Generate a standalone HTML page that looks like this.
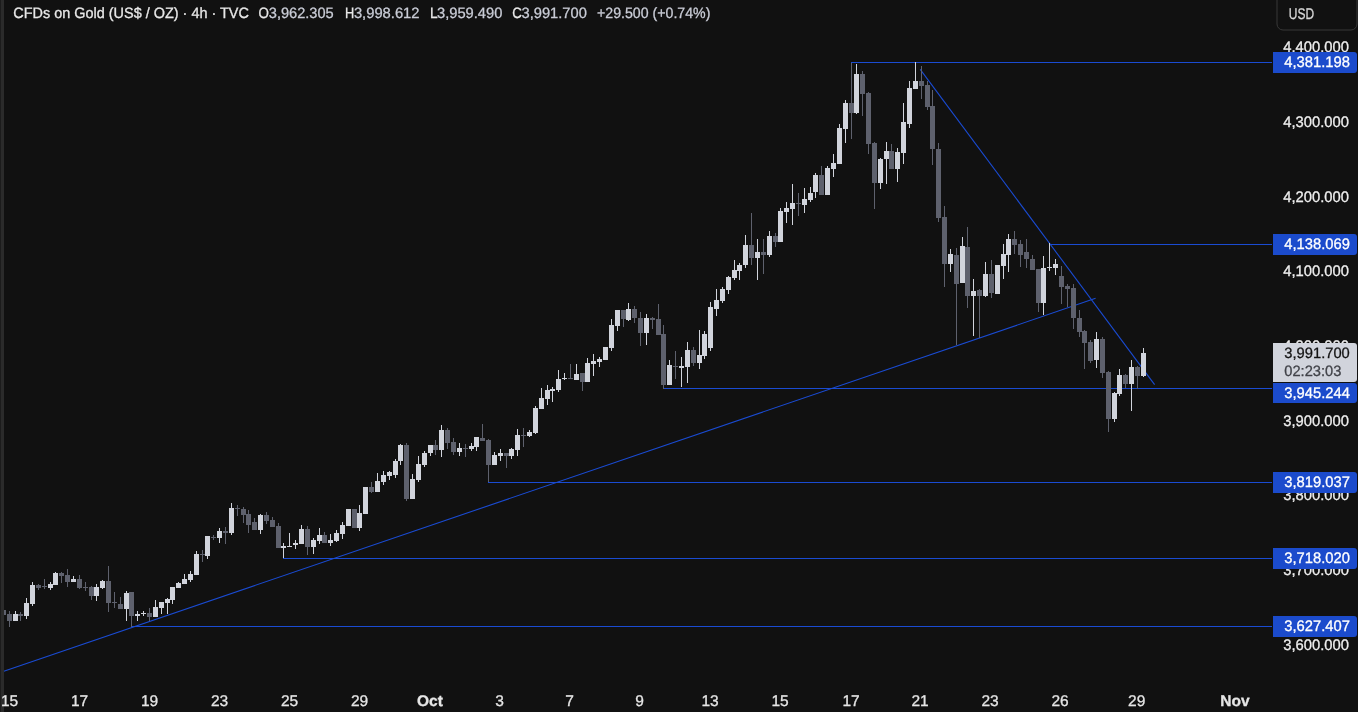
<!DOCTYPE html>
<html><head><meta charset="utf-8"><style>
html,body{margin:0;padding:0;background:#111111;width:1358px;height:712px;overflow:hidden}
</style></head><body>
<svg width="1358" height="712" viewBox="0 0 1358 712" style="display:block;will-change:transform">
<rect x="0" y="0" width="1358" height="712" fill="#111111"/>
<g stroke="#1a4bd2" stroke-width="1" fill="none">
<line x1="3.1" y1="671.5" x2="1095.6" y2="298.3" stroke-width="1.1"/>
<line x1="920.2" y1="69.3" x2="1154.6" y2="384.7" stroke-width="1.1"/>
<line x1="851" y1="62.5" x2="1272" y2="62.5"/>
<line x1="1049" y1="244.5" x2="1272" y2="244.5"/>
<line x1="663" y1="388.5" x2="1272" y2="388.5"/>
<line x1="488" y1="482.5" x2="1272" y2="482.5"/>
<line x1="283" y1="558.5" x2="1272" y2="558.5"/>
<line x1="131" y1="626.5" x2="1272" y2="626.5"/>
</g>
<g shape-rendering="crispEdges">
<rect x="3" y="608" width="1" height="8" fill="#5e616d"/>
<rect x="1" y="610" width="5" height="5" fill="#5e616d"/>
<rect x="9" y="611" width="1" height="16" fill="#5e616d"/>
<rect x="7" y="614" width="5" height="7" fill="#5e616d"/>
<rect x="15" y="611" width="1" height="10" fill="#d1d4dc"/>
<rect x="13" y="614" width="5" height="7" fill="#d1d4dc"/>
<rect x="20" y="612" width="1" height="9" fill="#5e616d"/>
<rect x="18" y="614" width="5" height="2" fill="#5e616d"/>
<rect x="26" y="598" width="1" height="21" fill="#d1d4dc"/>
<rect x="24" y="603" width="5" height="13" fill="#d1d4dc"/>
<rect x="32" y="582" width="1" height="24" fill="#d1d4dc"/>
<rect x="30" y="585" width="5" height="19" fill="#d1d4dc"/>
<rect x="38" y="584" width="1" height="6" fill="#5e616d"/>
<rect x="36" y="585" width="5" height="3" fill="#5e616d"/>
<rect x="44" y="579" width="1" height="10" fill="#5e616d"/>
<rect x="42" y="586" width="5" height="1" fill="#5e616d"/>
<rect x="50" y="582" width="1" height="8" fill="#d1d4dc"/>
<rect x="48" y="584" width="5" height="4" fill="#d1d4dc"/>
<rect x="55" y="572" width="1" height="13" fill="#d1d4dc"/>
<rect x="53" y="573" width="5" height="12" fill="#d1d4dc"/>
<rect x="61" y="572" width="1" height="11" fill="#5e616d"/>
<rect x="59" y="573" width="5" height="3" fill="#5e616d"/>
<rect x="67" y="569" width="1" height="18" fill="#5e616d"/>
<rect x="65" y="575" width="5" height="7" fill="#5e616d"/>
<rect x="73" y="576" width="1" height="6" fill="#d1d4dc"/>
<rect x="71" y="579" width="5" height="3" fill="#d1d4dc"/>
<rect x="79" y="575" width="1" height="14" fill="#5e616d"/>
<rect x="77" y="579" width="5" height="9" fill="#5e616d"/>
<rect x="85" y="582" width="1" height="9" fill="#5e616d"/>
<rect x="83" y="587" width="5" height="1" fill="#5e616d"/>
<rect x="91" y="586" width="1" height="14" fill="#5e616d"/>
<rect x="89" y="587" width="5" height="9" fill="#5e616d"/>
<rect x="96" y="584" width="1" height="17" fill="#d1d4dc"/>
<rect x="94" y="587" width="5" height="9" fill="#d1d4dc"/>
<rect x="102" y="580" width="1" height="9" fill="#d1d4dc"/>
<rect x="100" y="581" width="5" height="7" fill="#d1d4dc"/>
<rect x="108" y="566" width="1" height="46" fill="#5e616d"/>
<rect x="106" y="581" width="5" height="22" fill="#5e616d"/>
<rect x="114" y="592" width="1" height="16" fill="#5e616d"/>
<rect x="112" y="602" width="5" height="1" fill="#5e616d"/>
<rect x="120" y="597" width="1" height="12" fill="#5e616d"/>
<rect x="118" y="604" width="5" height="5" fill="#5e616d"/>
<rect x="126" y="591" width="1" height="30" fill="#d1d4dc"/>
<rect x="124" y="593" width="5" height="16" fill="#d1d4dc"/>
<rect x="131" y="592" width="1" height="35" fill="#5e616d"/>
<rect x="129" y="592" width="5" height="24" fill="#5e616d"/>
<rect x="137" y="611" width="1" height="10" fill="#d1d4dc"/>
<rect x="135" y="614" width="5" height="2" fill="#d1d4dc"/>
<rect x="143" y="611" width="1" height="5" fill="#d1d4dc"/>
<rect x="141" y="613" width="5" height="1" fill="#d1d4dc"/>
<rect x="149" y="608" width="1" height="13" fill="#5e616d"/>
<rect x="147" y="613" width="5" height="4" fill="#5e616d"/>
<rect x="155" y="600" width="1" height="17" fill="#d1d4dc"/>
<rect x="153" y="607" width="5" height="10" fill="#d1d4dc"/>
<rect x="161" y="602" width="1" height="12" fill="#d1d4dc"/>
<rect x="159" y="602" width="5" height="6" fill="#d1d4dc"/>
<rect x="167" y="598" width="1" height="16" fill="#d1d4dc"/>
<rect x="165" y="599" width="5" height="4" fill="#d1d4dc"/>
<rect x="172" y="587" width="1" height="17" fill="#d1d4dc"/>
<rect x="170" y="587" width="5" height="13" fill="#d1d4dc"/>
<rect x="178" y="582" width="1" height="6" fill="#d1d4dc"/>
<rect x="176" y="583" width="5" height="5" fill="#d1d4dc"/>
<rect x="184" y="574" width="1" height="10" fill="#d1d4dc"/>
<rect x="182" y="579" width="5" height="5" fill="#d1d4dc"/>
<rect x="190" y="571" width="1" height="11" fill="#d1d4dc"/>
<rect x="188" y="574" width="5" height="6" fill="#d1d4dc"/>
<rect x="196" y="551" width="1" height="24" fill="#d1d4dc"/>
<rect x="194" y="554" width="5" height="21" fill="#d1d4dc"/>
<rect x="202" y="550" width="1" height="12" fill="#5e616d"/>
<rect x="200" y="554" width="5" height="1" fill="#5e616d"/>
<rect x="207" y="536" width="1" height="23" fill="#d1d4dc"/>
<rect x="205" y="536" width="5" height="20" fill="#d1d4dc"/>
<rect x="213" y="535" width="1" height="5" fill="#5e616d"/>
<rect x="211" y="537" width="5" height="1" fill="#5e616d"/>
<rect x="219" y="528" width="1" height="15" fill="#d1d4dc"/>
<rect x="217" y="531" width="5" height="7" fill="#d1d4dc"/>
<rect x="225" y="527" width="1" height="17" fill="#5e616d"/>
<rect x="223" y="531" width="5" height="2" fill="#5e616d"/>
<rect x="231" y="503" width="1" height="32" fill="#d1d4dc"/>
<rect x="229" y="508" width="5" height="25" fill="#d1d4dc"/>
<rect x="237" y="505" width="1" height="11" fill="#5e616d"/>
<rect x="235" y="508" width="5" height="1" fill="#5e616d"/>
<rect x="243" y="507" width="1" height="16" fill="#5e616d"/>
<rect x="241" y="509" width="5" height="6" fill="#5e616d"/>
<rect x="248" y="510" width="1" height="23" fill="#5e616d"/>
<rect x="246" y="514" width="5" height="11" fill="#5e616d"/>
<rect x="254" y="518" width="1" height="12" fill="#5e616d"/>
<rect x="252" y="522" width="5" height="8" fill="#5e616d"/>
<rect x="260" y="514" width="1" height="20" fill="#d1d4dc"/>
<rect x="258" y="515" width="5" height="15" fill="#d1d4dc"/>
<rect x="266" y="512" width="1" height="12" fill="#5e616d"/>
<rect x="264" y="515" width="5" height="6" fill="#5e616d"/>
<rect x="272" y="517" width="1" height="10" fill="#5e616d"/>
<rect x="270" y="520" width="5" height="7" fill="#5e616d"/>
<rect x="278" y="523" width="1" height="25" fill="#5e616d"/>
<rect x="276" y="526" width="5" height="22" fill="#5e616d"/>
<rect x="283" y="543" width="1" height="15" fill="#d1d4dc"/>
<rect x="281" y="546" width="5" height="2" fill="#d1d4dc"/>
<rect x="289" y="533" width="1" height="14" fill="#d1d4dc"/>
<rect x="287" y="546" width="5" height="1" fill="#d1d4dc"/>
<rect x="295" y="540" width="1" height="9" fill="#d1d4dc"/>
<rect x="293" y="543" width="5" height="2" fill="#d1d4dc"/>
<rect x="301" y="525" width="1" height="19" fill="#d1d4dc"/>
<rect x="299" y="529" width="5" height="15" fill="#d1d4dc"/>
<rect x="307" y="526" width="1" height="29" fill="#5e616d"/>
<rect x="305" y="529" width="5" height="18" fill="#5e616d"/>
<rect x="313" y="538" width="1" height="16" fill="#d1d4dc"/>
<rect x="311" y="540" width="5" height="7" fill="#d1d4dc"/>
<rect x="319" y="528" width="1" height="16" fill="#d1d4dc"/>
<rect x="317" y="535" width="5" height="6" fill="#d1d4dc"/>
<rect x="324" y="532" width="1" height="11" fill="#5e616d"/>
<rect x="322" y="535" width="5" height="8" fill="#5e616d"/>
<rect x="330" y="534" width="1" height="12" fill="#d1d4dc"/>
<rect x="328" y="540" width="5" height="3" fill="#d1d4dc"/>
<rect x="336" y="530" width="1" height="12" fill="#d1d4dc"/>
<rect x="334" y="533" width="5" height="8" fill="#d1d4dc"/>
<rect x="342" y="522" width="1" height="17" fill="#d1d4dc"/>
<rect x="340" y="525" width="5" height="9" fill="#d1d4dc"/>
<rect x="348" y="509" width="1" height="17" fill="#d1d4dc"/>
<rect x="346" y="509" width="5" height="17" fill="#d1d4dc"/>
<rect x="354" y="509" width="1" height="19" fill="#5e616d"/>
<rect x="352" y="509" width="5" height="19" fill="#5e616d"/>
<rect x="359" y="505" width="1" height="26" fill="#d1d4dc"/>
<rect x="357" y="513" width="5" height="15" fill="#d1d4dc"/>
<rect x="365" y="487" width="1" height="27" fill="#d1d4dc"/>
<rect x="363" y="487" width="5" height="27" fill="#d1d4dc"/>
<rect x="371" y="482" width="1" height="11" fill="#5e616d"/>
<rect x="369" y="487" width="5" height="5" fill="#5e616d"/>
<rect x="377" y="473" width="1" height="19" fill="#d1d4dc"/>
<rect x="375" y="481" width="5" height="11" fill="#d1d4dc"/>
<rect x="383" y="471" width="1" height="14" fill="#d1d4dc"/>
<rect x="381" y="475" width="5" height="7" fill="#d1d4dc"/>
<rect x="389" y="471" width="1" height="9" fill="#d1d4dc"/>
<rect x="387" y="472" width="5" height="4" fill="#d1d4dc"/>
<rect x="395" y="459" width="1" height="19" fill="#d1d4dc"/>
<rect x="393" y="461" width="5" height="14" fill="#d1d4dc"/>
<rect x="400" y="444" width="1" height="21" fill="#d1d4dc"/>
<rect x="398" y="445" width="5" height="16" fill="#d1d4dc"/>
<rect x="406" y="443" width="1" height="58" fill="#5e616d"/>
<rect x="404" y="445" width="5" height="54" fill="#5e616d"/>
<rect x="412" y="474" width="1" height="25" fill="#d1d4dc"/>
<rect x="410" y="479" width="5" height="20" fill="#d1d4dc"/>
<rect x="418" y="456" width="1" height="26" fill="#d1d4dc"/>
<rect x="416" y="464" width="5" height="16" fill="#d1d4dc"/>
<rect x="424" y="451" width="1" height="16" fill="#d1d4dc"/>
<rect x="422" y="453" width="5" height="12" fill="#d1d4dc"/>
<rect x="430" y="445" width="1" height="11" fill="#d1d4dc"/>
<rect x="428" y="445" width="5" height="8" fill="#d1d4dc"/>
<rect x="435" y="440" width="1" height="15" fill="#5e616d"/>
<rect x="433" y="445" width="5" height="5" fill="#5e616d"/>
<rect x="441" y="425" width="1" height="32" fill="#d1d4dc"/>
<rect x="439" y="430" width="5" height="20" fill="#d1d4dc"/>
<rect x="447" y="428" width="1" height="21" fill="#5e616d"/>
<rect x="445" y="430" width="5" height="13" fill="#5e616d"/>
<rect x="453" y="438" width="1" height="17" fill="#5e616d"/>
<rect x="451" y="442" width="5" height="10" fill="#5e616d"/>
<rect x="459" y="443" width="1" height="13" fill="#d1d4dc"/>
<rect x="457" y="448" width="5" height="4" fill="#d1d4dc"/>
<rect x="465" y="444" width="1" height="13" fill="#5e616d"/>
<rect x="463" y="448" width="5" height="1" fill="#5e616d"/>
<rect x="471" y="443" width="1" height="8" fill="#d1d4dc"/>
<rect x="469" y="446" width="5" height="3" fill="#d1d4dc"/>
<rect x="476" y="437" width="1" height="14" fill="#d1d4dc"/>
<rect x="474" y="437" width="5" height="10" fill="#d1d4dc"/>
<rect x="482" y="424" width="1" height="17" fill="#5e616d"/>
<rect x="480" y="438" width="5" height="3" fill="#5e616d"/>
<rect x="488" y="439" width="1" height="43" fill="#5e616d"/>
<rect x="486" y="440" width="5" height="25" fill="#5e616d"/>
<rect x="494" y="452" width="1" height="13" fill="#d1d4dc"/>
<rect x="492" y="455" width="5" height="10" fill="#d1d4dc"/>
<rect x="500" y="449" width="1" height="12" fill="#d1d4dc"/>
<rect x="498" y="453" width="5" height="3" fill="#d1d4dc"/>
<rect x="506" y="453" width="1" height="15" fill="#5e616d"/>
<rect x="504" y="453" width="5" height="3" fill="#5e616d"/>
<rect x="511" y="448" width="1" height="11" fill="#d1d4dc"/>
<rect x="509" y="449" width="5" height="7" fill="#d1d4dc"/>
<rect x="517" y="429" width="1" height="27" fill="#d1d4dc"/>
<rect x="515" y="435" width="5" height="15" fill="#d1d4dc"/>
<rect x="523" y="428" width="1" height="19" fill="#5e616d"/>
<rect x="521" y="435" width="5" height="1" fill="#5e616d"/>
<rect x="529" y="430" width="1" height="7" fill="#d1d4dc"/>
<rect x="527" y="432" width="5" height="4" fill="#d1d4dc"/>
<rect x="535" y="406" width="1" height="28" fill="#d1d4dc"/>
<rect x="533" y="408" width="5" height="25" fill="#d1d4dc"/>
<rect x="541" y="388" width="1" height="21" fill="#d1d4dc"/>
<rect x="539" y="398" width="5" height="11" fill="#d1d4dc"/>
<rect x="547" y="385" width="1" height="20" fill="#d1d4dc"/>
<rect x="545" y="390" width="5" height="9" fill="#d1d4dc"/>
<rect x="552" y="387" width="1" height="15" fill="#d1d4dc"/>
<rect x="550" y="389" width="5" height="2" fill="#d1d4dc"/>
<rect x="558" y="370" width="1" height="22" fill="#d1d4dc"/>
<rect x="556" y="379" width="5" height="11" fill="#d1d4dc"/>
<rect x="564" y="373" width="1" height="7" fill="#d1d4dc"/>
<rect x="562" y="378" width="5" height="1" fill="#d1d4dc"/>
<rect x="570" y="364" width="1" height="15" fill="#5e616d"/>
<rect x="568" y="378" width="5" height="1" fill="#5e616d"/>
<rect x="576" y="364" width="1" height="16" fill="#d1d4dc"/>
<rect x="574" y="374" width="5" height="6" fill="#d1d4dc"/>
<rect x="582" y="373" width="1" height="18" fill="#5e616d"/>
<rect x="580" y="373" width="5" height="9" fill="#5e616d"/>
<rect x="587" y="358" width="1" height="24" fill="#d1d4dc"/>
<rect x="585" y="363" width="5" height="19" fill="#d1d4dc"/>
<rect x="593" y="354" width="1" height="22" fill="#d1d4dc"/>
<rect x="591" y="361" width="5" height="3" fill="#d1d4dc"/>
<rect x="599" y="357" width="1" height="10" fill="#d1d4dc"/>
<rect x="597" y="359" width="5" height="3" fill="#d1d4dc"/>
<rect x="605" y="347" width="1" height="13" fill="#d1d4dc"/>
<rect x="603" y="347" width="5" height="13" fill="#d1d4dc"/>
<rect x="611" y="319" width="1" height="32" fill="#d1d4dc"/>
<rect x="609" y="325" width="5" height="23" fill="#d1d4dc"/>
<rect x="617" y="310" width="1" height="21" fill="#d1d4dc"/>
<rect x="615" y="310" width="5" height="16" fill="#d1d4dc"/>
<rect x="623" y="310" width="1" height="17" fill="#5e616d"/>
<rect x="621" y="310" width="5" height="9" fill="#5e616d"/>
<rect x="628" y="303" width="1" height="18" fill="#d1d4dc"/>
<rect x="626" y="309" width="5" height="11" fill="#d1d4dc"/>
<rect x="634" y="306" width="1" height="17" fill="#5e616d"/>
<rect x="632" y="309" width="5" height="9" fill="#5e616d"/>
<rect x="640" y="312" width="1" height="34" fill="#5e616d"/>
<rect x="638" y="318" width="5" height="15" fill="#5e616d"/>
<rect x="646" y="314" width="1" height="31" fill="#d1d4dc"/>
<rect x="644" y="318" width="5" height="15" fill="#d1d4dc"/>
<rect x="652" y="317" width="1" height="12" fill="#5e616d"/>
<rect x="650" y="318" width="5" height="2" fill="#5e616d"/>
<rect x="658" y="304" width="1" height="31" fill="#5e616d"/>
<rect x="656" y="319" width="5" height="16" fill="#5e616d"/>
<rect x="663" y="325" width="1" height="64" fill="#5e616d"/>
<rect x="661" y="334" width="5" height="51" fill="#5e616d"/>
<rect x="669" y="360" width="1" height="25" fill="#d1d4dc"/>
<rect x="667" y="365" width="5" height="20" fill="#d1d4dc"/>
<rect x="675" y="351" width="1" height="28" fill="#5e616d"/>
<rect x="673" y="366" width="5" height="1" fill="#5e616d"/>
<rect x="681" y="357" width="1" height="30" fill="#d1d4dc"/>
<rect x="679" y="366" width="5" height="2" fill="#d1d4dc"/>
<rect x="687" y="342" width="1" height="41" fill="#d1d4dc"/>
<rect x="685" y="350" width="5" height="17" fill="#d1d4dc"/>
<rect x="693" y="347" width="1" height="19" fill="#5e616d"/>
<rect x="691" y="350" width="5" height="13" fill="#5e616d"/>
<rect x="699" y="330" width="1" height="39" fill="#d1d4dc"/>
<rect x="697" y="355" width="5" height="8" fill="#d1d4dc"/>
<rect x="704" y="331" width="1" height="28" fill="#d1d4dc"/>
<rect x="702" y="334" width="5" height="22" fill="#d1d4dc"/>
<rect x="710" y="302" width="1" height="49" fill="#d1d4dc"/>
<rect x="708" y="307" width="5" height="41" fill="#d1d4dc"/>
<rect x="716" y="289" width="1" height="27" fill="#d1d4dc"/>
<rect x="714" y="300" width="5" height="9" fill="#d1d4dc"/>
<rect x="722" y="287" width="1" height="16" fill="#d1d4dc"/>
<rect x="720" y="289" width="5" height="12" fill="#d1d4dc"/>
<rect x="728" y="276" width="1" height="18" fill="#d1d4dc"/>
<rect x="726" y="277" width="5" height="13" fill="#d1d4dc"/>
<rect x="734" y="260" width="1" height="20" fill="#d1d4dc"/>
<rect x="732" y="270" width="5" height="8" fill="#d1d4dc"/>
<rect x="739" y="263" width="1" height="17" fill="#d1d4dc"/>
<rect x="737" y="265" width="5" height="6" fill="#d1d4dc"/>
<rect x="745" y="235" width="1" height="33" fill="#d1d4dc"/>
<rect x="743" y="245" width="5" height="20" fill="#d1d4dc"/>
<rect x="751" y="213" width="1" height="52" fill="#5e616d"/>
<rect x="749" y="245" width="5" height="13" fill="#5e616d"/>
<rect x="757" y="239" width="1" height="41" fill="#d1d4dc"/>
<rect x="755" y="252" width="5" height="6" fill="#d1d4dc"/>
<rect x="763" y="239" width="1" height="35" fill="#5e616d"/>
<rect x="761" y="252" width="5" height="3" fill="#5e616d"/>
<rect x="769" y="231" width="1" height="26" fill="#d1d4dc"/>
<rect x="767" y="236" width="5" height="19" fill="#d1d4dc"/>
<rect x="775" y="233" width="1" height="14" fill="#5e616d"/>
<rect x="773" y="236" width="5" height="6" fill="#5e616d"/>
<rect x="780" y="208" width="1" height="34" fill="#d1d4dc"/>
<rect x="778" y="211" width="5" height="31" fill="#d1d4dc"/>
<rect x="786" y="202" width="1" height="21" fill="#d1d4dc"/>
<rect x="784" y="208" width="5" height="4" fill="#d1d4dc"/>
<rect x="792" y="184" width="1" height="41" fill="#d1d4dc"/>
<rect x="790" y="203" width="5" height="6" fill="#d1d4dc"/>
<rect x="798" y="193" width="1" height="23" fill="#5e616d"/>
<rect x="796" y="203" width="5" height="1" fill="#5e616d"/>
<rect x="804" y="188" width="1" height="25" fill="#d1d4dc"/>
<rect x="802" y="199" width="5" height="6" fill="#d1d4dc"/>
<rect x="810" y="187" width="1" height="15" fill="#d1d4dc"/>
<rect x="808" y="193" width="5" height="7" fill="#d1d4dc"/>
<rect x="815" y="173" width="1" height="25" fill="#d1d4dc"/>
<rect x="813" y="175" width="5" height="17" fill="#d1d4dc"/>
<rect x="821" y="166" width="1" height="29" fill="#5e616d"/>
<rect x="819" y="175" width="5" height="20" fill="#5e616d"/>
<rect x="827" y="166" width="1" height="29" fill="#d1d4dc"/>
<rect x="825" y="168" width="5" height="27" fill="#d1d4dc"/>
<rect x="833" y="154" width="1" height="23" fill="#d1d4dc"/>
<rect x="831" y="163" width="5" height="6" fill="#d1d4dc"/>
<rect x="839" y="124" width="1" height="40" fill="#d1d4dc"/>
<rect x="837" y="128" width="5" height="36" fill="#d1d4dc"/>
<rect x="845" y="100" width="1" height="43" fill="#d1d4dc"/>
<rect x="843" y="103" width="5" height="26" fill="#d1d4dc"/>
<rect x="851" y="63" width="1" height="76" fill="#5e616d"/>
<rect x="849" y="103" width="5" height="10" fill="#5e616d"/>
<rect x="856" y="64" width="1" height="50" fill="#d1d4dc"/>
<rect x="854" y="74" width="5" height="39" fill="#d1d4dc"/>
<rect x="862" y="71" width="1" height="45" fill="#5e616d"/>
<rect x="860" y="74" width="5" height="20" fill="#5e616d"/>
<rect x="868" y="92" width="1" height="62" fill="#5e616d"/>
<rect x="866" y="93" width="5" height="51" fill="#5e616d"/>
<rect x="874" y="142" width="1" height="67" fill="#5e616d"/>
<rect x="872" y="143" width="5" height="40" fill="#5e616d"/>
<rect x="880" y="158" width="1" height="31" fill="#d1d4dc"/>
<rect x="878" y="159" width="5" height="24" fill="#d1d4dc"/>
<rect x="886" y="142" width="1" height="42" fill="#d1d4dc"/>
<rect x="884" y="151" width="5" height="8" fill="#d1d4dc"/>
<rect x="891" y="144" width="1" height="25" fill="#5e616d"/>
<rect x="889" y="151" width="5" height="18" fill="#5e616d"/>
<rect x="897" y="148" width="1" height="34" fill="#d1d4dc"/>
<rect x="895" y="152" width="5" height="17" fill="#d1d4dc"/>
<rect x="903" y="103" width="1" height="61" fill="#d1d4dc"/>
<rect x="901" y="122" width="5" height="31" fill="#d1d4dc"/>
<rect x="909" y="81" width="1" height="47" fill="#d1d4dc"/>
<rect x="907" y="88" width="5" height="36" fill="#d1d4dc"/>
<rect x="915" y="62" width="1" height="27" fill="#d1d4dc"/>
<rect x="913" y="81" width="5" height="8" fill="#d1d4dc"/>
<rect x="921" y="66" width="1" height="33" fill="#5e616d"/>
<rect x="919" y="81" width="5" height="5" fill="#5e616d"/>
<rect x="927" y="81" width="1" height="29" fill="#5e616d"/>
<rect x="925" y="85" width="5" height="22" fill="#5e616d"/>
<rect x="932" y="90" width="1" height="75" fill="#5e616d"/>
<rect x="930" y="106" width="5" height="43" fill="#5e616d"/>
<rect x="938" y="143" width="1" height="79" fill="#5e616d"/>
<rect x="936" y="149" width="5" height="69" fill="#5e616d"/>
<rect x="944" y="206" width="1" height="81" fill="#5e616d"/>
<rect x="942" y="217" width="5" height="47" fill="#5e616d"/>
<rect x="950" y="249" width="1" height="23" fill="#d1d4dc"/>
<rect x="948" y="254" width="5" height="10" fill="#d1d4dc"/>
<rect x="956" y="248" width="1" height="97" fill="#5e616d"/>
<rect x="954" y="255" width="5" height="29" fill="#5e616d"/>
<rect x="962" y="237" width="1" height="46" fill="#d1d4dc"/>
<rect x="960" y="246" width="5" height="37" fill="#d1d4dc"/>
<rect x="967" y="227" width="1" height="81" fill="#5e616d"/>
<rect x="965" y="247" width="5" height="49" fill="#5e616d"/>
<rect x="973" y="279" width="1" height="57" fill="#d1d4dc"/>
<rect x="971" y="291" width="5" height="5" fill="#d1d4dc"/>
<rect x="979" y="289" width="1" height="49" fill="#5e616d"/>
<rect x="977" y="290" width="5" height="6" fill="#5e616d"/>
<rect x="985" y="262" width="1" height="35" fill="#d1d4dc"/>
<rect x="983" y="274" width="5" height="22" fill="#d1d4dc"/>
<rect x="991" y="260" width="1" height="38" fill="#5e616d"/>
<rect x="989" y="274" width="5" height="19" fill="#5e616d"/>
<rect x="997" y="265" width="1" height="29" fill="#d1d4dc"/>
<rect x="995" y="265" width="5" height="29" fill="#d1d4dc"/>
<rect x="1003" y="244" width="1" height="35" fill="#d1d4dc"/>
<rect x="1001" y="254" width="5" height="12" fill="#d1d4dc"/>
<rect x="1008" y="234" width="1" height="38" fill="#d1d4dc"/>
<rect x="1006" y="239" width="5" height="16" fill="#d1d4dc"/>
<rect x="1014" y="231" width="1" height="23" fill="#5e616d"/>
<rect x="1012" y="239" width="5" height="6" fill="#5e616d"/>
<rect x="1020" y="240" width="1" height="27" fill="#5e616d"/>
<rect x="1018" y="244" width="5" height="11" fill="#5e616d"/>
<rect x="1026" y="239" width="1" height="29" fill="#5e616d"/>
<rect x="1024" y="252" width="5" height="7" fill="#5e616d"/>
<rect x="1032" y="255" width="1" height="15" fill="#5e616d"/>
<rect x="1030" y="259" width="5" height="11" fill="#5e616d"/>
<rect x="1038" y="269" width="1" height="43" fill="#5e616d"/>
<rect x="1036" y="269" width="5" height="34" fill="#5e616d"/>
<rect x="1043" y="256" width="1" height="59" fill="#d1d4dc"/>
<rect x="1041" y="268" width="5" height="35" fill="#d1d4dc"/>
<rect x="1049" y="243" width="1" height="28" fill="#d1d4dc"/>
<rect x="1047" y="267" width="5" height="1" fill="#d1d4dc"/>
<rect x="1055" y="259" width="1" height="16" fill="#d1d4dc"/>
<rect x="1053" y="264" width="5" height="4" fill="#d1d4dc"/>
<rect x="1061" y="266" width="1" height="38" fill="#5e616d"/>
<rect x="1059" y="276" width="5" height="11" fill="#5e616d"/>
<rect x="1067" y="284" width="1" height="23" fill="#5e616d"/>
<rect x="1065" y="286" width="5" height="3" fill="#5e616d"/>
<rect x="1073" y="284" width="1" height="45" fill="#5e616d"/>
<rect x="1071" y="288" width="5" height="30" fill="#5e616d"/>
<rect x="1079" y="310" width="1" height="27" fill="#5e616d"/>
<rect x="1077" y="318" width="5" height="14" fill="#5e616d"/>
<rect x="1084" y="330" width="1" height="39" fill="#5e616d"/>
<rect x="1082" y="331" width="5" height="12" fill="#5e616d"/>
<rect x="1090" y="340" width="1" height="23" fill="#5e616d"/>
<rect x="1088" y="342" width="5" height="19" fill="#5e616d"/>
<rect x="1096" y="332" width="1" height="36" fill="#d1d4dc"/>
<rect x="1094" y="339" width="5" height="21" fill="#d1d4dc"/>
<rect x="1102" y="337" width="1" height="41" fill="#5e616d"/>
<rect x="1100" y="339" width="5" height="34" fill="#5e616d"/>
<rect x="1108" y="371" width="1" height="61" fill="#5e616d"/>
<rect x="1106" y="372" width="5" height="47" fill="#5e616d"/>
<rect x="1114" y="392" width="1" height="30" fill="#d1d4dc"/>
<rect x="1112" y="393" width="5" height="26" fill="#d1d4dc"/>
<rect x="1119" y="369" width="1" height="27" fill="#d1d4dc"/>
<rect x="1117" y="375" width="5" height="19" fill="#d1d4dc"/>
<rect x="1125" y="374" width="1" height="14" fill="#5e616d"/>
<rect x="1123" y="375" width="5" height="9" fill="#5e616d"/>
<rect x="1131" y="360" width="1" height="51" fill="#d1d4dc"/>
<rect x="1129" y="367" width="5" height="17" fill="#d1d4dc"/>
<rect x="1137" y="366" width="1" height="23" fill="#5e616d"/>
<rect x="1135" y="367" width="5" height="9" fill="#5e616d"/>
<rect x="1143" y="348" width="1" height="29" fill="#d1d4dc"/>
<rect x="1141" y="353" width="5" height="23" fill="#d1d4dc"/>
</g>
<rect x="0" y="0" width="1" height="712" fill="#1c1c1c"/>
<rect x="1" y="0" width="3" height="712" fill="#2b2b2b"/>
<text x="1283.2" y="52.3" font-family='"Liberation Sans", sans-serif' font-size="15.3" fill="#eeeeee" font-weight="normal" text-anchor="start" text-rendering="geometricPrecision" textLength="65.8" lengthAdjust="spacingAndGlyphs" stroke="#eeeeee" stroke-width="0.3">4,400.000</text>
<text x="1283.2" y="127.0" font-family='"Liberation Sans", sans-serif' font-size="15.3" fill="#eeeeee" font-weight="normal" text-anchor="start" text-rendering="geometricPrecision" textLength="65.8" lengthAdjust="spacingAndGlyphs" stroke="#eeeeee" stroke-width="0.3">4,300.000</text>
<text x="1283.2" y="201.7" font-family='"Liberation Sans", sans-serif' font-size="15.3" fill="#eeeeee" font-weight="normal" text-anchor="start" text-rendering="geometricPrecision" textLength="65.8" lengthAdjust="spacingAndGlyphs" stroke="#eeeeee" stroke-width="0.3">4,200.000</text>
<text x="1283.2" y="276.3" font-family='"Liberation Sans", sans-serif' font-size="15.3" fill="#eeeeee" font-weight="normal" text-anchor="start" text-rendering="geometricPrecision" textLength="65.8" lengthAdjust="spacingAndGlyphs" stroke="#eeeeee" stroke-width="0.3">4,100.000</text>
<text x="1283.2" y="351.0" font-family='"Liberation Sans", sans-serif' font-size="15.3" fill="#eeeeee" font-weight="normal" text-anchor="start" text-rendering="geometricPrecision" textLength="65.8" lengthAdjust="spacingAndGlyphs" stroke="#eeeeee" stroke-width="0.3">4,000.000</text>
<text x="1283.2" y="425.7" font-family='"Liberation Sans", sans-serif' font-size="15.3" fill="#eeeeee" font-weight="normal" text-anchor="start" text-rendering="geometricPrecision" textLength="65.8" lengthAdjust="spacingAndGlyphs" stroke="#eeeeee" stroke-width="0.3">3,900.000</text>
<text x="1283.2" y="500.4" font-family='"Liberation Sans", sans-serif' font-size="15.3" fill="#eeeeee" font-weight="normal" text-anchor="start" text-rendering="geometricPrecision" textLength="65.8" lengthAdjust="spacingAndGlyphs" stroke="#eeeeee" stroke-width="0.3">3,800.000</text>
<text x="1283.2" y="575.1" font-family='"Liberation Sans", sans-serif' font-size="15.3" fill="#eeeeee" font-weight="normal" text-anchor="start" text-rendering="geometricPrecision" textLength="65.8" lengthAdjust="spacingAndGlyphs" stroke="#eeeeee" stroke-width="0.3">3,700.000</text>
<text x="1283.2" y="649.7" font-family='"Liberation Sans", sans-serif' font-size="15.3" fill="#eeeeee" font-weight="normal" text-anchor="start" text-rendering="geometricPrecision" textLength="65.8" lengthAdjust="spacingAndGlyphs" stroke="#eeeeee" stroke-width="0.3">3,600.000</text>
<path d="M1273,52 H1354 a3,3 0 0 1 3,3 V70 a3,3 0 0 1 -3,3 H1273 Z" fill="#1b4bcc"/>
<text x="1284.3" y="67.1" font-family='"Liberation Sans", sans-serif' font-size="15.3" fill="#ffffff" font-weight="normal" text-anchor="start" text-rendering="geometricPrecision" textLength="65.7" lengthAdjust="spacingAndGlyphs" stroke="#ffffff" stroke-width="0.3">4,381.198</text>
<path d="M1273,234 H1354 a3,3 0 0 1 3,3 V252 a3,3 0 0 1 -3,3 H1273 Z" fill="#1b4bcc"/>
<text x="1284.3" y="249.1" font-family='"Liberation Sans", sans-serif' font-size="15.3" fill="#ffffff" font-weight="normal" text-anchor="start" text-rendering="geometricPrecision" textLength="65.7" lengthAdjust="spacingAndGlyphs" stroke="#ffffff" stroke-width="0.3">4,138.069</text>
<path d="M1273,343 H1354 a3,3 0 0 1 3,3 V379 a3,3 0 0 1 -3,3 H1273 Z" fill="#d1d4dc"/>
<text x="1284.3" y="357.8" font-family='"Liberation Sans", sans-serif' font-size="15" fill="#131313" font-weight="normal" text-anchor="start" text-rendering="geometricPrecision" textLength="65.5" lengthAdjust="spacingAndGlyphs" stroke="#131313" stroke-width="0.3">3,991.700</text>
<text x="1284.3" y="375.8" font-family='"Liberation Sans", sans-serif' font-size="15" fill="#404248" font-weight="normal" text-anchor="start" text-rendering="geometricPrecision" textLength="57.1" lengthAdjust="spacingAndGlyphs" stroke="#404248" stroke-width="0.3">02:23:03</text>
<path d="M1273,383 H1354 a3,3 0 0 1 3,3 V400 a3,3 0 0 1 -3,3 H1273 Z" fill="#1b4bcc"/>
<text x="1284.3" y="397.6" font-family='"Liberation Sans", sans-serif' font-size="15.3" fill="#ffffff" font-weight="normal" text-anchor="start" text-rendering="geometricPrecision" textLength="65.7" lengthAdjust="spacingAndGlyphs" stroke="#ffffff" stroke-width="0.3">3,945.244</text>
<path d="M1273,472 H1354 a3,3 0 0 1 3,3 V490 a3,3 0 0 1 -3,3 H1273 Z" fill="#1b4bcc"/>
<text x="1284.3" y="487.1" font-family='"Liberation Sans", sans-serif' font-size="15.3" fill="#ffffff" font-weight="normal" text-anchor="start" text-rendering="geometricPrecision" textLength="65.7" lengthAdjust="spacingAndGlyphs" stroke="#ffffff" stroke-width="0.3">3,819.037</text>
<path d="M1273,548 H1354 a3,3 0 0 1 3,3 V566 a3,3 0 0 1 -3,3 H1273 Z" fill="#1b4bcc"/>
<text x="1284.3" y="563.1" font-family='"Liberation Sans", sans-serif' font-size="15.3" fill="#ffffff" font-weight="normal" text-anchor="start" text-rendering="geometricPrecision" textLength="65.7" lengthAdjust="spacingAndGlyphs" stroke="#ffffff" stroke-width="0.3">3,718.020</text>
<path d="M1273,616 H1354 a3,3 0 0 1 3,3 V634 a3,3 0 0 1 -3,3 H1273 Z" fill="#1b4bcc"/>
<text x="1284.3" y="631.1" font-family='"Liberation Sans", sans-serif' font-size="15.3" fill="#ffffff" font-weight="normal" text-anchor="start" text-rendering="geometricPrecision" textLength="65.7" lengthAdjust="spacingAndGlyphs" stroke="#ffffff" stroke-width="0.3">3,627.407</text>
<rect x="1277" y="-10" width="80" height="40" rx="6" ry="6" fill="none" stroke="#383838" stroke-width="1"/>
<text x="1288.8" y="19.2" font-family='"Liberation Sans", sans-serif' font-size="15.5" fill="#d8d8d8" font-weight="normal" text-anchor="start" text-rendering="geometricPrecision" textLength="25.3" lengthAdjust="spacingAndGlyphs" stroke="#d8d8d8" stroke-width="0.3">USD</text>
<text x="9.6" y="706" font-family='"Liberation Sans", sans-serif' font-size="15.5" fill="#e6e6e6" font-weight="normal" text-anchor="middle" text-rendering="geometricPrecision" stroke="#e6e6e6" stroke-width="0.3">15</text>
<text x="79.5" y="706" font-family='"Liberation Sans", sans-serif' font-size="15.5" fill="#e6e6e6" font-weight="normal" text-anchor="middle" text-rendering="geometricPrecision" stroke="#e6e6e6" stroke-width="0.3">17</text>
<text x="149.5" y="706" font-family='"Liberation Sans", sans-serif' font-size="15.5" fill="#e6e6e6" font-weight="normal" text-anchor="middle" text-rendering="geometricPrecision" stroke="#e6e6e6" stroke-width="0.3">19</text>
<text x="219.5" y="706" font-family='"Liberation Sans", sans-serif' font-size="15.5" fill="#e6e6e6" font-weight="normal" text-anchor="middle" text-rendering="geometricPrecision" stroke="#e6e6e6" stroke-width="0.3">23</text>
<text x="289.5" y="706" font-family='"Liberation Sans", sans-serif' font-size="15.5" fill="#e6e6e6" font-weight="normal" text-anchor="middle" text-rendering="geometricPrecision" stroke="#e6e6e6" stroke-width="0.3">25</text>
<text x="359.5" y="706" font-family='"Liberation Sans", sans-serif' font-size="15.5" fill="#e6e6e6" font-weight="normal" text-anchor="middle" text-rendering="geometricPrecision" stroke="#e6e6e6" stroke-width="0.3">29</text>
<text x="429.9" y="706" font-family='"Liberation Sans", sans-serif' font-size="15.5" fill="#e6e6e6" font-weight="bold" text-anchor="middle" text-rendering="geometricPrecision" stroke="#e6e6e6" stroke-width="0.3">Oct</text>
<text x="499.5" y="706" font-family='"Liberation Sans", sans-serif' font-size="15.5" fill="#e6e6e6" font-weight="normal" text-anchor="middle" text-rendering="geometricPrecision" stroke="#e6e6e6" stroke-width="0.3">3</text>
<text x="569.5" y="706" font-family='"Liberation Sans", sans-serif' font-size="15.5" fill="#e6e6e6" font-weight="normal" text-anchor="middle" text-rendering="geometricPrecision" stroke="#e6e6e6" stroke-width="0.3">7</text>
<text x="639.5" y="706" font-family='"Liberation Sans", sans-serif' font-size="15.5" fill="#e6e6e6" font-weight="normal" text-anchor="middle" text-rendering="geometricPrecision" stroke="#e6e6e6" stroke-width="0.3">9</text>
<text x="710" y="706" font-family='"Liberation Sans", sans-serif' font-size="15.5" fill="#e6e6e6" font-weight="normal" text-anchor="middle" text-rendering="geometricPrecision" stroke="#e6e6e6" stroke-width="0.3">13</text>
<text x="780" y="706" font-family='"Liberation Sans", sans-serif' font-size="15.5" fill="#e6e6e6" font-weight="normal" text-anchor="middle" text-rendering="geometricPrecision" stroke="#e6e6e6" stroke-width="0.3">15</text>
<text x="851" y="706" font-family='"Liberation Sans", sans-serif' font-size="15.5" fill="#e6e6e6" font-weight="normal" text-anchor="middle" text-rendering="geometricPrecision" stroke="#e6e6e6" stroke-width="0.3">17</text>
<text x="920" y="706" font-family='"Liberation Sans", sans-serif' font-size="15.5" fill="#e6e6e6" font-weight="normal" text-anchor="middle" text-rendering="geometricPrecision" stroke="#e6e6e6" stroke-width="0.3">21</text>
<text x="990" y="706" font-family='"Liberation Sans", sans-serif' font-size="15.5" fill="#e6e6e6" font-weight="normal" text-anchor="middle" text-rendering="geometricPrecision" stroke="#e6e6e6" stroke-width="0.3">23</text>
<text x="1060" y="706" font-family='"Liberation Sans", sans-serif' font-size="15.5" fill="#e6e6e6" font-weight="normal" text-anchor="middle" text-rendering="geometricPrecision" stroke="#e6e6e6" stroke-width="0.3">26</text>
<text x="1136.7" y="706" font-family='"Liberation Sans", sans-serif' font-size="15.5" fill="#e6e6e6" font-weight="normal" text-anchor="middle" text-rendering="geometricPrecision" stroke="#e6e6e6" stroke-width="0.3">29</text>
<text x="1235" y="706" font-family='"Liberation Sans", sans-serif' font-size="15.5" fill="#e6e6e6" font-weight="bold" text-anchor="middle" text-rendering="geometricPrecision" stroke="#e6e6e6" stroke-width="0.3">Nov</text>
<text x="13.3" y="18" font-family='"Liberation Sans", sans-serif' font-size="15" fill="#e8e8e8" font-weight="normal" text-anchor="start" text-rendering="geometricPrecision" textLength="235.6" lengthAdjust="spacingAndGlyphs" stroke="#e8e8e8" stroke-width="0.3">CFDs on Gold (US$ / OZ) · 4h · TVC</text>
<text x="258.5" y="18" font-family='"Liberation Sans", sans-serif' font-size="15" fill="#e8e8e8" font-weight="normal" text-anchor="start" text-rendering="geometricPrecision" textLength="10.4" lengthAdjust="spacingAndGlyphs" stroke="#e8e8e8" stroke-width="0.3">O</text>
<text x="268.8" y="18" font-family='"Liberation Sans", sans-serif' font-size="15" fill="#c9ccd6" font-weight="normal" text-anchor="start" text-rendering="geometricPrecision" textLength="64.9" lengthAdjust="spacingAndGlyphs" stroke="#c9ccd6" stroke-width="0.3">3,962.305</text>
<text x="345" y="18" font-family='"Liberation Sans", sans-serif' font-size="15" fill="#e8e8e8" font-weight="normal" text-anchor="start" text-rendering="geometricPrecision" textLength="9.2" lengthAdjust="spacingAndGlyphs" stroke="#e8e8e8" stroke-width="0.3">H</text>
<text x="353.9" y="18" font-family='"Liberation Sans", sans-serif' font-size="15" fill="#c9ccd6" font-weight="normal" text-anchor="start" text-rendering="geometricPrecision" textLength="65.6" lengthAdjust="spacingAndGlyphs" stroke="#c9ccd6" stroke-width="0.3">3,998.612</text>
<text x="429.9" y="18" font-family='"Liberation Sans", sans-serif' font-size="15" fill="#e8e8e8" font-weight="normal" text-anchor="start" text-rendering="geometricPrecision" textLength="7.6" lengthAdjust="spacingAndGlyphs" stroke="#e8e8e8" stroke-width="0.3">L</text>
<text x="437" y="18" font-family='"Liberation Sans", sans-serif' font-size="15" fill="#c9ccd6" font-weight="normal" text-anchor="start" text-rendering="geometricPrecision" textLength="65.4" lengthAdjust="spacingAndGlyphs" stroke="#c9ccd6" stroke-width="0.3">3,959.490</text>
<text x="512.3" y="18" font-family='"Liberation Sans", sans-serif' font-size="15" fill="#e8e8e8" font-weight="normal" text-anchor="start" text-rendering="geometricPrecision" textLength="9.6" lengthAdjust="spacingAndGlyphs" stroke="#e8e8e8" stroke-width="0.3">C</text>
<text x="521.5" y="18" font-family='"Liberation Sans", sans-serif' font-size="15" fill="#c9ccd6" font-weight="normal" text-anchor="start" text-rendering="geometricPrecision" textLength="65.3" lengthAdjust="spacingAndGlyphs" stroke="#c9ccd6" stroke-width="0.3">3,991.700</text>
<text x="597" y="18" font-family='"Liberation Sans", sans-serif' font-size="15" fill="#c9ccd6" font-weight="normal" text-anchor="start" text-rendering="geometricPrecision" textLength="113.4" lengthAdjust="spacingAndGlyphs" stroke="#c9ccd6" stroke-width="0.3">+29.500 (+0.74%)</text>
</svg>
</body></html>
